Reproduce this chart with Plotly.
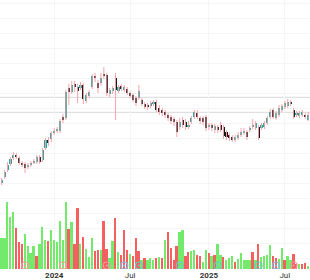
import pandas as pd
import plotly.graph_objects as go

# ---- data (weekly bars) ----
start_week = "2023-08-28"
opens = [11.7,12.3,13.0,13.6,14.2,14.5,14.2,13.7,13.6,13.3,13.5,13.7,13.8,14.3,14.0,15.2,16.0,16.1,16.7,16.9,
         16.9,18.3,18.2,21.2,20.8,21.6,21.3,21.2,21.5,19.9,20.4,21.3,22.4,21.7,21.7,22.6,22.5,20.6,20.9,22.2,
         20.9,21.4,21.0,21.1,20.7,20.5,20.2,20.2,20.0,19.6,19.5,19.4,19.6,19.8,19.2,19.0,18.8,18.5,18.3,18.1,
         17.8,17.3,18.0,17.8,17.3,17.8,18.3,18.7,18.2,18.2,18.3,17.3,17.5,17.0,17.3,17.5,17.3,16.8,16.5,16.3,
         16.0,16.2,16.5,16.7,16.8,17.0,17.3,17.2,17.3,17.2,17.3,17.7,18.3,19.0,18.2,18.5,19.0,19.3,19.4,19.8,
         19.0,18.5,18.4,18.5,18.5,18.0]
highs = [12.2,13.0,13.8,14.3,14.8,14.7,14.4,13.9,13.8,13.7,13.9,14.1,14.5,14.5,15.2,16.2,16.3,16.9,17.2,17.3,
         18.1,18.6,21.0,21.6,21.9,21.9,21.6,21.8,21.7,20.7,21.0,22.6,22.7,22.0,22.7,23.3,22.7,21.2,21.4,22.7,
         21.5,21.6,21.5,21.3,20.9,20.7,20.4,21.5,20.2,19.8,19.7,19.9,20.0,20.0,19.5,19.2,19.0,18.7,18.5,18.3,
         18.0,18.2,18.3,18.1,17.9,18.4,19.0,19.0,18.4,18.4,18.5,17.7,17.7,17.6,17.5,17.8,17.5,17.0,16.7,16.5,
         16.5,16.8,17.2,17.2,17.0,17.4,18.1,17.9,17.5,17.7,17.9,18.4,19.1,19.2,18.9,19.5,19.6,19.9,20.1,20.0,
         19.2,18.9,18.9,19.0,18.7,18.8]
lows = [11.5,12.1,12.8,13.4,14.0,14.1,13.5,13.3,12.7,13.1,13.3,13.6,13.6,13.6,13.8,15.0,15.4,15.8,16.5,16.7,
        16.7,17.7,18.0,19.5,20.6,20.8,19.7,21.0,19.6,19.7,20.2,21.1,21.8,20.7,21.4,22.1,20.4,20.3,20.6,18.0,
        20.7,20.9,20.8,20.5,20.2,19.8,19.4,20.0,19.4,19.1,19.0,19.2,19.4,18.8,18.5,18.4,18.2,17.9,17.6,17.4,
        16.3,17.0,17.2,17.0,17.1,17.6,18.1,18.1,17.6,17.5,16.9,17.0,16.9,16.7,16.7,16.8,16.1,16.0,15.9,15.8,
        15.8,16.0,16.3,16.5,16.0,16.8,17.1,17.0,16.0,17.0,17.1,17.5,18.1,18.1,18.0,18.3,18.8,19.1,19.2,19.4,
        18.1,18.3,18.2,18.3,18.1,17.9]
closes = [12.0,12.8,13.5,14.1,14.5,14.3,13.7,13.5,13.2,13.5,13.7,13.9,14.3,13.8,15.0,16.0,15.7,16.7,16.9,17.1,
          17.9,18.0,20.8,20.8,21.5,21.3,20.9,21.5,20.1,20.5,20.8,22.4,22.2,21.2,22.2,22.4,20.7,21.0,21.2,21.0,
          21.3,21.1,21.3,20.7,20.4,20.0,19.7,20.9,19.6,19.3,19.3,19.7,19.8,19.0,18.8,18.7,18.5,18.2,17.9,17.8,
          16.8,17.8,17.5,17.3,17.5,18.2,18.8,18.3,17.9,17.8,17.2,17.5,17.2,17.4,17.0,17.0,16.4,16.3,16.2,16.0,
          16.3,16.5,16.8,16.9,16.3,17.2,17.4,17.7,16.2,17.5,17.7,18.2,18.8,18.3,18.7,19.2,19.4,19.7,19.8,19.6,
          18.3,18.7,18.7,18.8,18.3,18.5]
volumes = [3.10,3.13,6.66,5.20,5.66,4.10,2.66,2.50,3.50,2.26,1.60,2.26,1.33,2.50,4.20,2.93,2.76,3.86,2.93,2.70,
           4.76,2.93,6.73,4.03,4.66,2.50,6.10,2.50,3.16,2.00,1.20,3.10,1.76,1.86,1.93,4.83,2.00,1.10,2.83,5.10,
           1.66,1.43,3.86,1.93,1.53,1.26,3.10,1.76,0.93,1.10,0.93,1.10,0.86,
           1.10,1.20,1.10,2.93,3.66,2.10,0.86,2.26,3.66,3.86,1.33,1.73,1.83,1.93,1.43,1.26,0.70,1.93,1.60,1.26,
           1.43,2.53,1.43,1.16,0.86,1.10,1.26,0.70,1.00,1.60,0.86,0.86,0.86,1.66,0.86,2.53,1.20,1.33,1.43,2.43,
           1.33,1.10,1.03,2.10,0.86,1.26,0.86,1.50,0.50,0.50,0.50,0.60,0.33]
volume_dir = list("gggggrrrggggrgggrggggggrgrrgrgggrrgrrggrgrrrgrrrgrggg"
                  "rgrgrrrrggrrggrrggrgrggrgggrgggggrgrggggrrggrggrrgrrg")
levels = [20.27, 18.77]
event_dates = ["2023-10-23", "2024-01-22", "2024-05-06", "2024-06-17", "2024-07-22",
               "2024-10-28", "2025-01-27", "2025-05-05", "2025-06-16", "2025-07-28"]
event_kind = ["miss", "miss", "miss", "div", "beat", "beat", "beat", "beat", "div", "miss"]
event_level = [0.35] * len(event_dates)
tick_dates = ["2024-01-01", "2024-07-01", "2025-01-06", "2025-07-07"]
tick_text = ["<b>2024</b>", "Jul", "<b>2025</b>", "Jul"]

# ---- styles ----
UP = "#26a69a"
DOWN = "#121212"
WICK = "#f5a3aa"
VOL_UP = "#74ea6c"
VOL_DN = "#f45f5f"
EVENT_COL = {"miss": "#f29aa0", "beat": "#6cc9bd", "div": "#8ab6e8"}
DAY_MS = 86400000

dates = pd.date_range(start_week, periods=len(closes), freq="7D")

fig = go.Figure()

# volume
fig.add_trace(go.Bar(
    x=dates, y=volumes, yaxis="y2",
    marker=dict(color=[VOL_UP if d == "g" else VOL_DN for d in volume_dir], line=dict(width=0)),
    width=4.4 * DAY_MS, hoverinfo="skip", showlegend=False))

# wicks
wx, wy = [], []
for d, h, l in zip(dates, highs, lows):
    wx += [d, d, None]
    wy += [l, h, None]
fig.add_trace(go.Scatter(x=wx, y=wy, mode="lines", line=dict(color=WICK, width=1),
                         hoverinfo="skip", showlegend=False))

# bodies
for up, col in ((True, UP), (False, DOWN)):
    bx, bb, bh = [], [], []
    for d, o, c in zip(dates, opens, closes):
        if (c >= o) == up:
            bx.append(d)
            bb.append(min(o, c))
            bh.append(max(abs(c - o), 0.12))
    fig.add_trace(go.Bar(x=bx, y=bh, base=bb, marker=dict(color=col, line=dict(width=0)),
                         width=5.0 * DAY_MS, hoverinfo="skip", showlegend=False))

# events
fig.add_trace(go.Scatter(
    x=event_dates, y=event_level, yaxis="y2", mode="markers",
    marker=dict(symbol="circle-open-dot", size=7,
                color=[EVENT_COL[k] for k in event_kind], line=dict(width=1.2)),
    hoverinfo="skip", showlegend=False))

for lv in levels:
    fig.add_hline(y=lv, line=dict(color="#d9d9d9", width=1), layer="below")

fig.update_layout(
    width=310, height=280,
    margin=dict(l=0, r=0, t=0, b=11),
    paper_bgcolor="white", plot_bgcolor="white",
    barmode="overlay", bargap=0,
    font=dict(family="Roboto, Liberation Sans, sans-serif", size=8, color="#222"),
    xaxis=dict(type="date", range=["2023-08-23 22:00", "2025-09-05 08:00"],
               tickmode="array", tickvals=tick_dates, ticktext=tick_text,
               showgrid=True, gridcolor="#f6f6f6", gridwidth=1, zeroline=False,
               showline=False, ticks="", tickfont=dict(size=8, color="#333")),
    yaxis=dict(range=[3.1, 30.0], tick0=1.17, dtick=1.5, showgrid=True,
               gridcolor="#f5f5f5", showticklabels=False, zeroline=False, ticks=""),
    yaxis2=dict(overlaying="y", range=[0, 26.9], showgrid=False, visible=False),
)

fig.write_html("out.html")
